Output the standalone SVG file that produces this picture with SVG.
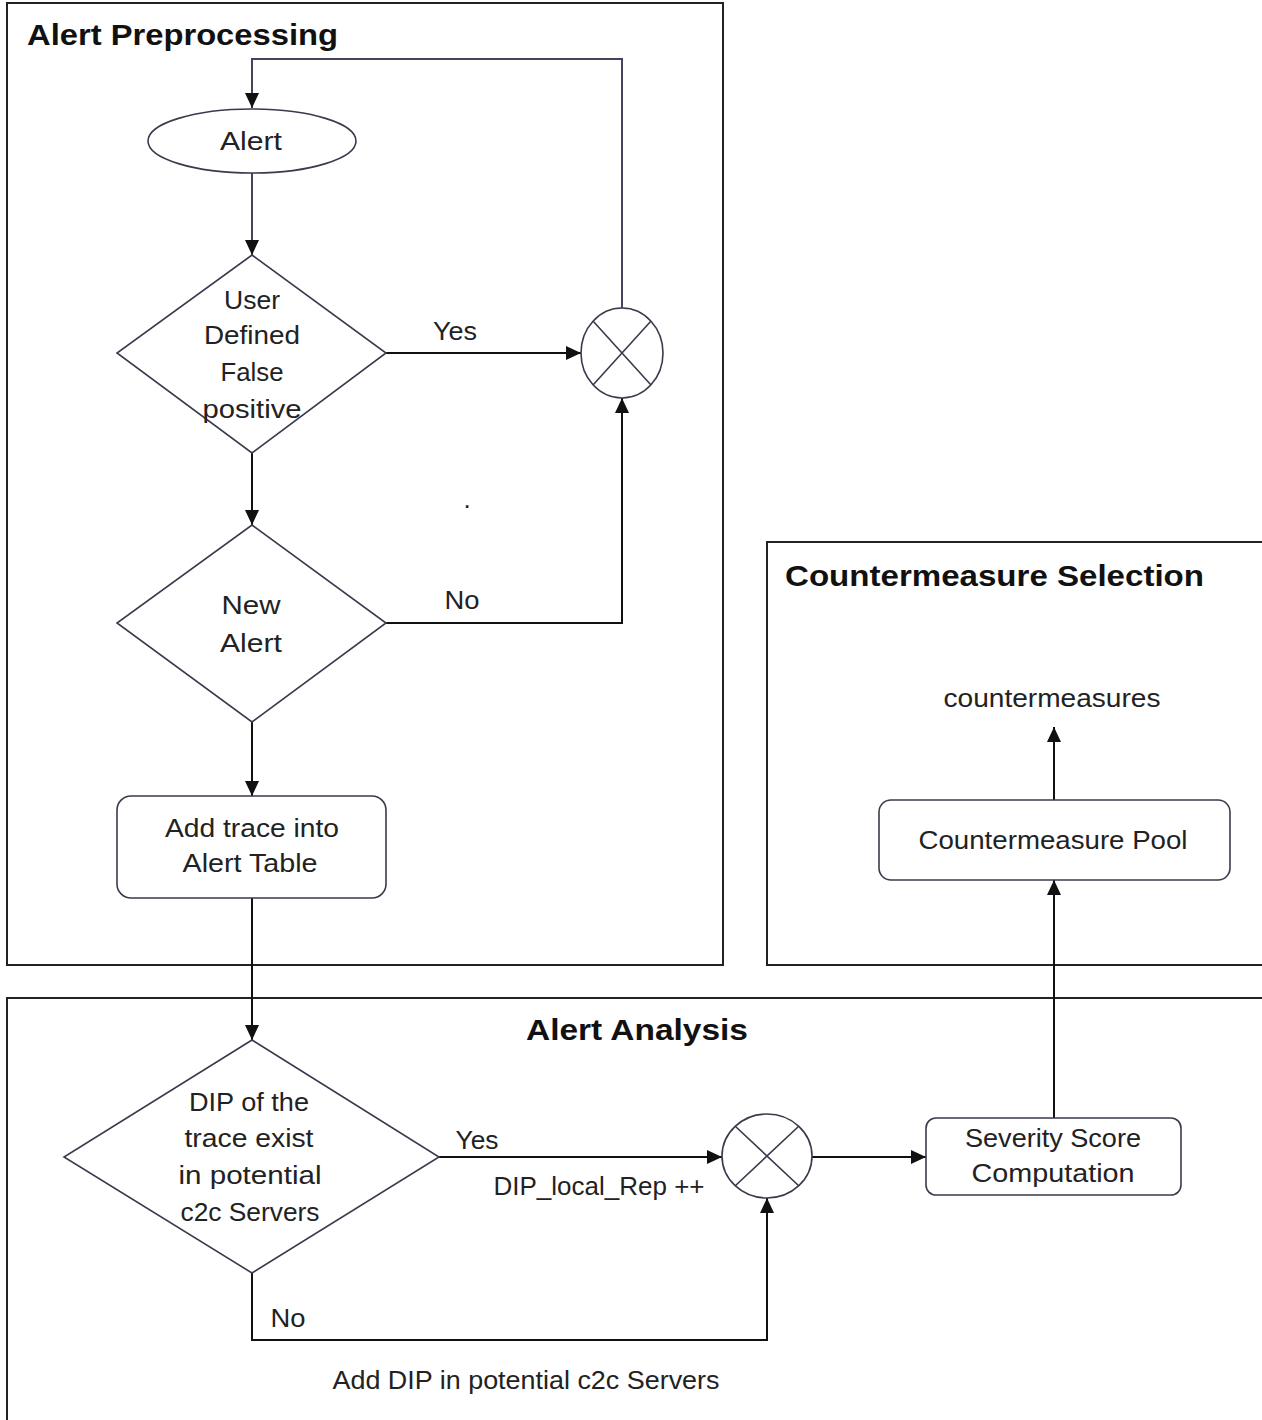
<svg xmlns="http://www.w3.org/2000/svg" width="1262" height="1420" viewBox="0 0 1262 1420">
<style>
.frame{fill:none;stroke:#222;stroke-width:2}
.shape{fill:#fff;stroke:#3a3a4c;stroke-width:1.6}
.conn{fill:none;stroke:#111;stroke-width:2}
.connb{fill:none;stroke:#44445e;stroke-width:2}
.t{font-family:"Liberation Sans",Arial,sans-serif;font-size:26px;fill:#222;text-anchor:middle}
.title{font-family:"Liberation Sans",Arial,sans-serif;font-size:30px;font-weight:bold;fill:#111}
</style>
<defs>
<marker id="ah" markerUnits="userSpaceOnUse" markerWidth="16" markerHeight="16" refX="15" refY="8" orient="auto">
<path d="M0,1 L15,8 L0,15 Z" fill="#111"/>
</marker>
</defs>
<rect width="1262" height="1420" fill="#fff"/>

<g id="frame-preprocessing">
<rect class="frame" x="7" y="3" width="716" height="962"/>
<text class="title" x="27" y="45" textLength="311" lengthAdjust="spacingAndGlyphs">Alert Preprocessing</text>
</g>
<g id="frame-countermeasure">
<path class="frame" d="M1265,542 H767 V965 H1265"/>
<text class="title" x="785" y="586" textLength="419" lengthAdjust="spacingAndGlyphs">Countermeasure Selection</text>
</g>
<g id="frame-analysis">
<path class="frame" d="M1265,998 H7 V1425"/>
<text class="title" x="526" y="1040" textLength="222" lengthAdjust="spacingAndGlyphs">Alert Analysis</text>
</g>

<g id="connectors">
<path class="connb" d="M622,308 V59 H252 V108" marker-end="url(#ah)"/>
<path class="connb" d="M252,173 V255" marker-end="url(#ah)"/>
<path class="conn" d="M386,353 H581" marker-end="url(#ah)"/>
<path class="conn" d="M252,453 V525" marker-end="url(#ah)"/>
<path class="conn" d="M386,623 H622 V398" marker-end="url(#ah)"/>
<path class="conn" d="M252,722 V796" marker-end="url(#ah)"/>
<path class="conn" d="M252,898 V1040" marker-end="url(#ah)"/>
<path class="conn" d="M439,1157 H722" marker-end="url(#ah)"/>
<path class="conn" d="M252,1273 V1340 H767 V1198" marker-end="url(#ah)"/>
<path class="conn" d="M812,1157 H926" marker-end="url(#ah)"/>
<path class="conn" d="M1054,1118 V880" marker-end="url(#ah)"/>
<path class="conn" d="M1054,800 V727" marker-end="url(#ah)"/>
<text class="t" x="455" y="340" textLength="44" lengthAdjust="spacingAndGlyphs">Yes</text>
<text class="t" x="462" y="609" textLength="35" lengthAdjust="spacingAndGlyphs">No</text>
<text class="t" x="467" y="508" font-size="14">.</text>
<text class="t" x="477" y="1149" textLength="43" lengthAdjust="spacingAndGlyphs">Yes</text>
<text class="t" x="599" y="1195" textLength="211" lengthAdjust="spacingAndGlyphs">DIP_local_Rep ++</text>
<text class="t" x="288" y="1327" textLength="35" lengthAdjust="spacingAndGlyphs">No</text>
<text class="t" x="526" y="1389" textLength="387" lengthAdjust="spacingAndGlyphs">Add DIP in potential c2c Servers</text>
<text class="t" x="1052" y="707" textLength="217" lengthAdjust="spacingAndGlyphs">countermeasures</text>
</g>

<g id="node-alert">
<ellipse class="shape" cx="252" cy="141" rx="104" ry="32"/>
<text class="t" x="251" y="150" textLength="62" lengthAdjust="spacingAndGlyphs">Alert</text>
</g>
<g id="node-false-positive">
<polygon class="shape" points="252,255 386,353 252,453 117,353"/>
<text class="t" x="252" y="309" textLength="56" lengthAdjust="spacingAndGlyphs">User</text>
<text class="t" x="252" y="344" textLength="96" lengthAdjust="spacingAndGlyphs">Defined</text>
<text class="t" x="252" y="381" textLength="63" lengthAdjust="spacingAndGlyphs">False</text>
<text class="t" x="252" y="418" textLength="99" lengthAdjust="spacingAndGlyphs">positive</text>
</g>
<g id="node-merge1">
<ellipse class="shape" cx="622" cy="353" rx="41" ry="45"/>
<path class="shape" d="M593,321 L651,385 M651,321 L593,385"/>
</g>
<g id="node-new-alert">
<polygon class="shape" points="252,525 386,623 252,722 117,623"/>
<text class="t" x="251" y="614" textLength="59" lengthAdjust="spacingAndGlyphs">New</text>
<text class="t" x="251" y="652" textLength="62" lengthAdjust="spacingAndGlyphs">Alert</text>
</g>
<g id="node-add-trace">
<rect class="shape" x="117" y="796" width="269" height="102" rx="14"/>
<text class="t" x="252" y="837" textLength="174" lengthAdjust="spacingAndGlyphs">Add trace into</text>
<text class="t" x="250" y="872" textLength="135" lengthAdjust="spacingAndGlyphs">Alert Table</text>
</g>
<g id="node-dip-exist">
<polygon class="shape" points="252,1040 439,1157 252,1273 64,1157"/>
<text class="t" x="249" y="1111" textLength="120" lengthAdjust="spacingAndGlyphs">DIP of the</text>
<text class="t" x="249" y="1147" textLength="129" lengthAdjust="spacingAndGlyphs">trace exist</text>
<text class="t" x="250" y="1184" textLength="143" lengthAdjust="spacingAndGlyphs">in potential</text>
<text class="t" x="250" y="1221" textLength="139" lengthAdjust="spacingAndGlyphs">c2c Servers</text>
</g>
<g id="node-merge2">
<ellipse class="shape" cx="767" cy="1156" rx="45" ry="42"/>
<path class="shape" d="M735,1126 L799,1186 M799,1126 L735,1186"/>
</g>
<g id="node-severity">
<rect class="shape" x="926" y="1118" width="255" height="77" rx="10"/>
<text class="t" x="1053" y="1147" textLength="176" lengthAdjust="spacingAndGlyphs">Severity Score</text>
<text class="t" x="1053" y="1182" textLength="163" lengthAdjust="spacingAndGlyphs">Computation</text>
</g>
<g id="node-pool">
<rect class="shape" x="879" y="800" width="351" height="80" rx="12"/>
<text class="t" x="1053" y="849" textLength="269" lengthAdjust="spacingAndGlyphs">Countermeasure Pool</text>
</g>
</svg>
